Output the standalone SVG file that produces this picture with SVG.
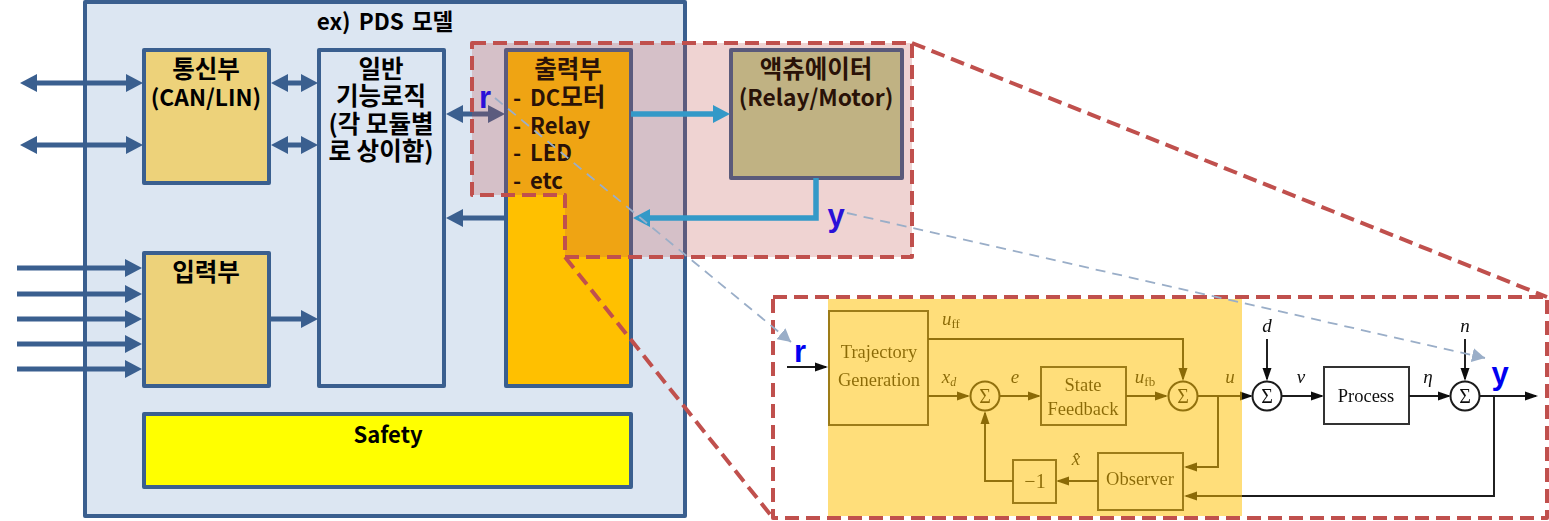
<svg xmlns="http://www.w3.org/2000/svg" width="1549" height="521" viewBox="0 0 1549 521">
<style>
.n{stroke:#3a5f8f;stroke-width:4;stroke-linejoin:round}
text{font-family:"Noto Sans CJK KR","Noto Sans",sans-serif;font-weight:700;fill:#000;text-anchor:middle;font-size:24.500px}
.lat{font-size:22.800px}
.t{fill:#2a1208}
.l{text-anchor:start}
.sym{font-family:"Liberation Sans",sans-serif;font-weight:700;font-size:31px;fill:#2a10d8}
.sym2{fill:#0000f0}
.c{fill:none;stroke:#3a5f8f;stroke-width:5}
.b{fill:none;stroke:#3399c8;stroke-width:5.500}
.dash{fill:none;stroke:#c0504d;stroke-width:4;stroke-dasharray:14 7;stroke-linejoin:round}
.g{fill:none;stroke:#9aaec8;stroke-width:1.800;stroke-dasharray:10 7}
.ln{fill:none;stroke:#1a1a1a;stroke-width:1.900}
.bx{fill:#fff;stroke:#333;stroke-width:2}
.cir{fill:#fff;stroke:#1a1a1a;stroke-width:2}
.s{font-family:"Liberation Serif",serif;font-weight:400;font-size:18.500px;fill:#111}
.sg{font-family:"Liberation Serif",serif;font-weight:400;font-size:20px;fill:#111}
.i{font-family:"Liberation Serif",serif;font-weight:400;font-style:italic;font-size:19px;fill:#111}
</style>
<defs>
<marker id="a" markerUnits="userSpaceOnUse" markerWidth="18" markerHeight="18" refX="10" refY="9" orient="auto-start-reverse"><path d="M0 0L17 9L0 18z" fill="#3a5f8f"/></marker>
<marker id="ab" markerUnits="userSpaceOnUse" markerWidth="18" markerHeight="18" refX="10" refY="9" orient="auto"><path d="M0 0L17 9L0 18z" fill="#3399c8"/></marker>
<marker id="ag" markerUnits="userSpaceOnUse" markerWidth="14" markerHeight="14" refX="13" refY="7" orient="auto"><path d="M0 0L13 7L0 14z" fill="#9aaec8"/></marker>
<marker id="k" markerUnits="userSpaceOnUse" markerWidth="14" markerHeight="10" refX="11" refY="5" orient="auto"><path d="M0 0.500L13 5L0 9.500z" fill="#111"/></marker>
<filter id="soft"><feGaussianBlur stdDeviation="0.35"/></filter>
</defs>

<g id="pds-model">
<rect class="n" x="85" y="2" width="600" height="514" fill="#dce6f2"/>
<text x="385" y="30" style="font-size:22.500px;word-spacing:3px">ex) PDS 모델</text>
</g>
<g id="comm"><rect class="n" x="144" y="50" width="125" height="133" fill="#edd27a"/>
<text x="206" y="78">통신부<tspan class="lat" x="206" dy="28">(CAN/LIN)</tspan></text></g>
<g id="input"><rect class="n" x="144" y="253" width="125" height="133" fill="#edd27a"/>
<text x="206" y="281">입력부</text></g>
<g id="logic"><rect class="n" x="319" y="50" width="125" height="336" fill="#dce6f2"/>
<text x="381" y="78">일반<tspan x="381" dy="27">기능로직</tspan><tspan x="381" dy="28">(각 모듈별</tspan><tspan x="381" dy="27">로 상이함)</tspan></text></g>
<g id="output"><rect class="n" x="506" y="50" width="125" height="336" fill="#ffc000"/></g>
<g id="safety"><rect class="n" x="144" y="414" width="487" height="73" fill="#ffff00"/>
<text x="388" y="443" style="font-size:22px">Safety</text></g>

<g id="connectors">
<path class="c" d="M27 83H136" marker-start="url(#a)" marker-end="url(#a)"/>
<path class="c" d="M27 145H136" marker-start="url(#a)" marker-end="url(#a)"/>
<path class="c" d="M278 83H311" marker-start="url(#a)" marker-end="url(#a)"/>
<path class="c" d="M278 145H311" marker-start="url(#a)" marker-end="url(#a)"/>
<path class="c" d="M17 268H135" marker-end="url(#a)"/>
<path class="c" d="M17 294H135" marker-end="url(#a)"/>
<path class="c" d="M17 319H135" marker-end="url(#a)"/>
<path class="c" d="M17 344H135" marker-end="url(#a)"/>
<path class="c" d="M17 369H135" marker-end="url(#a)"/>
<path class="c" d="M271 319H311" marker-end="url(#a)"/>
<path class="c" d="M453 114H498" marker-start="url(#a)" marker-end="url(#a)"/>
<path class="c" d="M504 218H453" marker-end="url(#a)"/>
</g>

<g id="focus-region">
<path d="M472 43H912V257H565V195H472z" fill="#c0504d" fill-opacity=".25"/>
</g>
<g id="output-text">
<text class="t" x="568" y="78">출력부</text>
<text class="t l" x="513" y="106" style="font-size:22px">-<tspan x="530">DC</tspan><tspan style="font-size:24.500px">모터</tspan><tspan x="513" dy="28">-</tspan><tspan x="530">Relay</tspan><tspan x="513" dy="27">-</tspan><tspan x="530">LED</tspan><tspan x="513" dy="28">-</tspan><tspan x="530">etc</tspan></text>
</g>
<g id="actuator"><rect x="731" y="50" width="171" height="128" fill="#c0b283" stroke="#5a5a7a" stroke-width="4" stroke-linejoin="round"/>
<text class="t" x="816" y="78">액츄에이터<tspan class="lat" x="816" dy="28">(Relay/Motor)</tspan></text>
</g>
<g id="feedback-connectors">
<path class="b" d="M631 114H723" marker-end="url(#ab)"/>
<path class="b" d="M816 178V218H640" marker-end="url(#ab)"/>
</g>
<g id="zoom-outline">
<path class="dash" d="M472 43H912V257H565V195H472z"/>
<path class="dash" d="M912 43L1547 297M565 257L773 518"/>
<rect class="dash" x="773" y="297" width="774" height="221"/>
</g>

<g id="control-diagram" filter="url(#soft)">
<path class="ln" d="M787 367H826" marker-end="url(#k)"/>
<rect class="bx" x="829" y="311" width="99" height="114"/>
<text class="s" x="879" y="358">Trajectory<tspan x="879" dy="28">Generation</tspan></text>
<path class="ln" d="M928 339H1183V379" marker-end="url(#k)"/>
<text class="i" x="942" y="325" style="text-anchor:start">u<tspan font-size="13" font-style="normal" dy="3">ff</tspan></text>
<path class="ln" d="M928 396H968" marker-end="url(#k)"/>
<text class="i" x="949" y="383">x<tspan font-size="12" dy="3">d</tspan></text>
<circle class="cir" cx="985" cy="396" r="14.500"/>
<text class="sg" x="985" y="403">Σ</text>
<path class="ln" d="M1000 396H1039" marker-end="url(#k)"/>
<text class="i" x="1015" y="383">e</text>
<rect class="bx" x="1041" y="367" width="85" height="58"/>
<text class="s" x="1083" y="391">State<tspan x="1083" dy="24">Feedback</tspan></text>
<path class="ln" d="M1126 396H1166" marker-end="url(#k)"/>
<text class="i" x="1145" y="383">u<tspan font-size="13" font-style="normal" dy="3">fb</tspan></text>
<circle class="cir" cx="1183" cy="396" r="14.500"/>
<text class="sg" x="1183" y="403">Σ</text>
<path class="ln" d="M1198 396H1251" marker-end="url(#k)"/>
<text class="i" x="1230" y="383">u</text>
<path class="ln" d="M1218 396V467H1186" marker-end="url(#k)"/>
<rect class="bx" x="1098" y="453" width="85" height="57"/>
<text class="s" x="1140" y="485">Observer</text>
<path class="ln" d="M1098 481H1058" marker-end="url(#k)"/>
<text class="i" x="1076" y="465">x̂</text>
<rect class="bx" x="1013" y="460" width="43" height="43"/>
<text class="sg" x="1035" y="488">−1</text>
<path class="ln" d="M1013 481H985V413" marker-end="url(#k)"/>
<path class="ln" d="M1267 339V379" marker-end="url(#k)"/>
<text class="i" x="1267" y="332">d</text>
<circle class="cir" cx="1267" cy="396" r="14.500"/>
<text class="sg" x="1267" y="403">Σ</text>
<path class="ln" d="M1282 396H1322" marker-end="url(#k)"/>
<text class="i" x="1301" y="383">ν</text>
<rect class="bx" x="1324" y="367" width="85" height="57"/>
<text class="s" x="1366" y="402">Process</text>
<path class="ln" d="M1409 396H1449" marker-end="url(#k)"/>
<text class="i" x="1428" y="383">η</text>
<path class="ln" d="M1465 339V379" marker-end="url(#k)"/>
<text class="i" x="1465" y="332">n</text>
<circle class="cir" cx="1465" cy="396" r="14.500"/>
<text class="sg" x="1465" y="403">Σ</text>
<path class="ln" d="M1480 396H1536" marker-end="url(#k)" stroke-width="2.500"/>
<path class="ln" d="M1494 396V496H1186" marker-end="url(#k)"/>
</g>
<g id="highlight"><rect x="828" y="299" width="414" height="217" fill="#ffc000" fill-opacity=".52"/></g>

<g id="signal-links">
<path class="g" d="M495 98L791 342" marker-end="url(#ag)"/>
<path class="g" d="M847 213L1485 358" marker-end="url(#ag)"/>
</g>
<g id="signal-labels">
<text class="sym" x="485" y="108">r</text>
<text class="sym" x="836" y="226">y</text>
<text class="sym sym2" x="800" y="362">r</text>
<text class="sym sym2" x="1500" y="384">y</text>
</g>
</svg>
